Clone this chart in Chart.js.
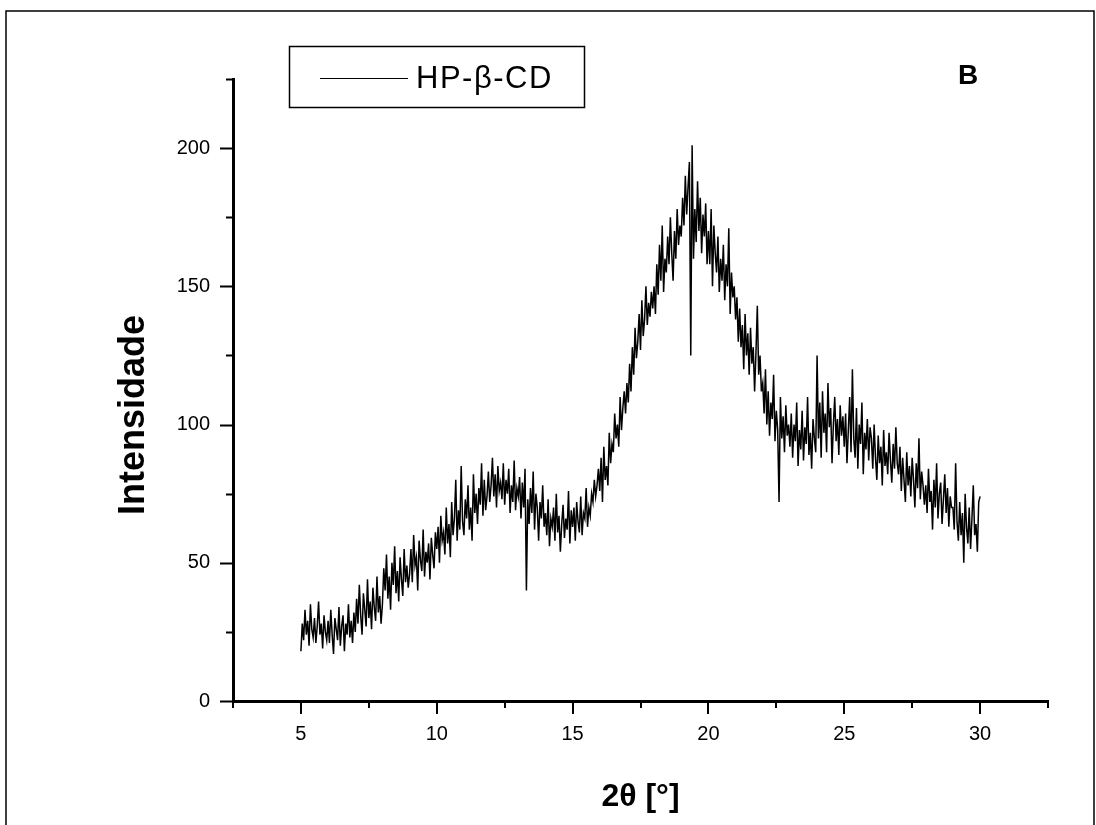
<!DOCTYPE html>
<html><head><meta charset="utf-8">
<script src="https://cdn.jsdelivr.net/npm/chart.js@4/dist/chart.umd.min.js"></script>
<style>html,body{margin:0;padding:0;background:#fff;}#wrap{width:1096px;height:825px;position:relative;background:#fff}</style>
</head><body><div id="wrap"><canvas id="c" width="1096" height="825"></canvas></div>
<script>
// ---- labels ----
const seriesLabel = 'HP-β-CD';
const panelLetter = 'B';
const xTitle = '2θ [°]';
const yTitle = 'Intensidade';

// ---- sampling grid (5° to 30°) ----
const angleStart = 5.0;
const angleStep = 0.05;

// ---- intensity values ----
const intensity5to10 = [
 18,28,22,33,24,29,20,35,26,23,30,21,27,36,24,28,19,31,25,22,
 29,21,33,24,17,30,26,22,34,20,27,31,18,28,24,35,23,29,21,32,
 25,37,28,42,31,24,39,33,27,44,30,36,26,41,34,29,45,32,38,28,
 35,48,40,53,37,45,33,50,42,56,39,47,36,52,44,38,55,43,49,41,
 46,55,43,60,49,52,40,58,51,47,62,45,54,50,57,44,59,53,48,61
];
const intensity10to15 = [
 55,63,50,67,58,61,53,70,57,64,52,72,60,66,80,58,69,62,85,65,
 60,73,66,78,62,70,58,82,68,75,64,77,71,86,67,80,69,74,83,72,
 78,88,74,82,70,85,76,79,73,86,71,80,75,84,68,78,72,87,69,77,
 74,81,66,79,70,84,40,73,64,77,68,83,62,75,70,58,72,66,78,63,
 68,60,73,56,66,63,70,58,75,61,67,54,64,71,59,66,62,76,57,69
];
const intensity15to20 = [
 63,70,58,72,65,61,74,60,68,66,77,63,70,67,75,72,80,74,78,84,
 76,88,72,92,80,85,78,97,86,93,90,104,95,100,92,110,98,106,112,104,
 115,108,122,112,128,118,135,124,130,140,127,145,132,138,150,136,144,139,148,142,
 150,140,158,147,165,152,172,148,160,155,168,158,175,162,152,170,160,178,165,172,
 168,182,172,190,176,186,195,125,201,160,178,166,188,170,182,162,176,168,180,158
];
const intensity20to25 = [
 170,158,178,150,172,162,155,168,148,160,152,165,145,158,150,171,140,155,146,150,
 138,146,130,142,128,136,120,140,125,133,118,135,122,128,112,126,143,118,125,112,
 115,104,120,100,112,96,108,102,118,94,105,98,72,110,95,103,90,107,96,100,
 92,104,88,100,94,108,85,98,91,105,87,99,93,110,89,97,84,102,95,90,
 125,95,108,88,112,97,104,90,115,99,106,86,100,110,94,102,89,107,96,103
];
const intensity25to30 = [
 92,104,86,98,110,90,120,95,88,106,84,100,93,108,82,97,91,102,87,99,
 95,84,100,88,80,96,86,92,78,98,85,90,82,97,87,79,93,84,99,86,
 82,92,76,88,80,72,90,78,85,74,88,80,70,86,77,95,73,83,78,71,
 78,68,84,72,76,62,80,70,86,66,75,79,64,73,82,68,77,63,74,70,
 70,62,86,65,58,72,60,68,50,75,63,57,70,55,66,78,60,64,54,72,
 74
];

// ---- axes ----
const xMin = 2.5, xMax = 32.5;
const yMin = 0, yMax = 225;
const xMajorTicks = [5, 10, 15, 20, 25, 30];
const xMinorTicks = [2.5, 7.5, 12.5, 17.5, 22.5, 27.5, 32.5];
const yMajorTicks = [0, 50, 100, 150, 200];
const yMinorTicks = [25, 75, 125, 175, 225];

const allIntensity = [].concat(intensity5to10, intensity10to15, intensity15to20, intensity20to25, intensity25to30);
const points = allIntensity.map((v, i) => ({x: +(angleStart + i * angleStep).toFixed(3), y: v}));

const decor = {
  id: 'decor',
  afterDraw(chart) {
    const ctx = chart.ctx;
    const xs = chart.scales.x, ys = chart.scales.y;
    const ca = chart.chartArea;
    ctx.save();
    // outer frame
    ctx.strokeStyle = '#000';
    ctx.lineWidth = 1.5;
    ctx.beginPath();
    ctx.moveTo(6, 825); ctx.lineTo(6, 11); ctx.lineTo(1094, 11); ctx.lineTo(1094, 825);
    ctx.stroke();
    // ticks
    ctx.lineWidth = 2;
    ctx.beginPath();
    yMajorTicks.forEach(v => { const p = Math.round(ys.getPixelForValue(v)) + 0.5; ctx.moveTo(ca.left - 13, p); ctx.lineTo(ca.left, p); });
    yMinorTicks.forEach(v => { const p = Math.round(ys.getPixelForValue(v)) + 0.5; ctx.moveTo(ca.left - 7, p); ctx.lineTo(ca.left, p); });
    xMajorTicks.forEach(v => { const p = Math.round(xs.getPixelForValue(v)); ctx.moveTo(p, ca.bottom); ctx.lineTo(p, ca.bottom + 13); });
    xMinorTicks.forEach(v => { const p = Math.round(xs.getPixelForValue(v)); ctx.moveTo(p, ca.bottom); ctx.lineTo(p, ca.bottom + 7); });
    ctx.stroke();
    // y title
    ctx.fillStyle = '#000';
    ctx.font = 'bold 36px Arial, "Liberation Sans", sans-serif';
    ctx.textAlign = 'center';
    ctx.textBaseline = 'middle';
    ctx.translate(134, 415);
    ctx.rotate(-Math.PI / 2);
    ctx.fillText(yTitle, 0, 0);
    ctx.setTransform(1, 0, 0, 1, 0, 0);
    // legend
    ctx.lineWidth = 1.5;
    ctx.strokeRect(289.5, 46.5, 295, 61);
    ctx.lineWidth = 1.2;
    ctx.beginPath(); ctx.moveTo(320, 78.5); ctx.lineTo(408, 78.5); ctx.stroke();
    ctx.font = '31px Arial, "Liberation Sans", sans-serif';
    ctx.textAlign = 'left';
    if ('letterSpacing' in ctx) ctx.letterSpacing = '1.5px';
    ctx.fillText(chart.data.datasets[0].label, 416, 79);
    if ('letterSpacing' in ctx) ctx.letterSpacing = '0px';
    // panel letter
    ctx.font = 'bold 28px Arial, "Liberation Sans", sans-serif';
    ctx.textAlign = 'center';
    ctx.fillText(panelLetter, 968, 76);
    ctx.restore();
  }
};

new Chart(document.getElementById('c'), {
  type: 'line',
  data: { datasets: [{ label: seriesLabel, data: points, borderColor: '#000', borderWidth: 1.5, pointRadius: 0, tension: 0, fill: false }] },
  options: {
    responsive: false, animation: false, devicePixelRatio: 1,
    layout: { padding: { left: 0, top: 79, right: 48, bottom: 0 } },
    plugins: { legend: { display: false }, tooltip: { enabled: false } },
    scales: {
      x: {
        type: 'linear', min: xMin, max: xMax,
        afterFit(s) { s.height = 124; },
        afterBuildTicks(s) { s.ticks = xMajorTicks.map(v => ({ value: v })); },
        grid: { display: false, drawTicks: false },
        border: { display: true, color: '#000', width: 3 },
        ticks: { color: '#000', padding: 21, maxRotation: 0, autoSkip: false, font: { family: 'Arial, "Liberation Sans", sans-serif', size: 20 } },
        title: { display: true, text: xTitle, color: '#000', padding: { top: 0, bottom: 9 }, font: { family: 'Arial, "Liberation Sans", sans-serif', size: 32, weight: 'bold' } }
      },
      y: {
        type: 'linear', min: yMin, max: yMax,
        afterFit(s) { s.width = 233; },
        afterBuildTicks(s) { s.ticks = yMajorTicks.map(v => ({ value: v })); },
        grid: { display: false, drawTicks: false },
        border: { display: true, color: '#000', width: 3 },
        ticks: { color: '#000', padding: 23, autoSkip: false, font: { family: 'Arial, "Liberation Sans", sans-serif', size: 20 } }
      }
    }
  },
  plugins: [decor]
});
</script>
</body></html>
